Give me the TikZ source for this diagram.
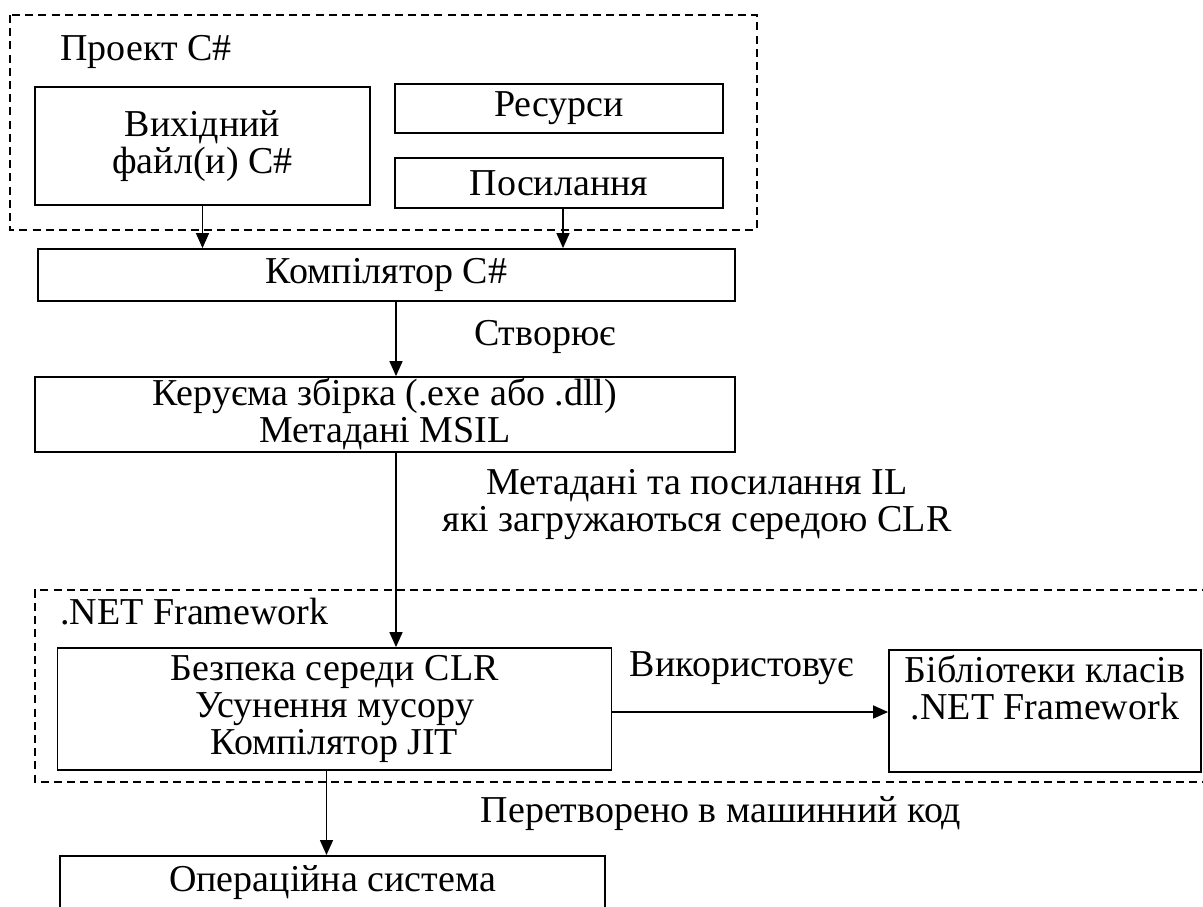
\documentclass[tikz,border=0pt]{standalone}
\usepackage{fontspec}
\setmainfont{Liberation Serif}
\usetikzlibrary{arrows.meta}
\begin{document}
\begin{tikzpicture}[x=0.5pt,y=-0.5pt,
  font=\fontsize{19pt}{18.5pt}\selectfont,
  box/.style={draw,line width=0.9pt,rectangle,align=center,inner sep=0pt},
  grp/.style={draw,line width=0.9pt,dash pattern=on 4pt off 2.6pt},
  arr/.style={line width=0.75pt,-{Triangle[length=7.5pt,width=6.5pt]}},
  lbl/.style={inner sep=0pt,align=center}]
\useasboundingbox (0,0) rectangle (1203,906);
% groups
\draw[grp] (10,15) rectangle (757,230);
\draw[grp] (1210,590) -- (35,590) -- (35,782) -- (1210,782);
\node[lbl,anchor=west] (proj) at (60,52) {Проект C\#};
\node[lbl,anchor=west] (net) at (60,612) {.NET Framework};
% boxes
\node[box,minimum width=167.5pt,minimum height=59pt] (src) at (202.5,146) {Вихідний\\файл(и) C\#};
\node[box,minimum width=164pt,minimum height=24.5pt] (res) at (559,108.5) {Ресурси};
\node[box,minimum width=164pt,minimum height=25pt] (ref) at (559,183) {Посилання};
\node[box,minimum width=348.5pt,minimum height=26pt] (comp) at (386.5,275) {Компілятор C\#};
\node[box,minimum width=350pt,minimum height=37.5pt] (asm) at (385,414.5) {Керуєма збірка (.exe або .dll)\\Метадані MSIL};
\node[box,minimum width=277pt,minimum height=61pt] (clr) at (334.5,709) {Безпека середи CLR\\Усунення мусору\\Компілятор JIT};
\node[box,minimum width=156pt,minimum height=61pt] (lib) at (1045,711) {Бібліотеки класів\\.NET Framework\\\strut};
\node[box,minimum width=272.5pt,minimum height=45pt,anchor=north,inner ysep=5pt] (os) at (332.5,855) {Операційна система\\\strut\\\strut};
% labels
\node[lbl] (l1) at (545,337) {Створює};
\node[lbl] (l2) at (697,505) {Метадані та посилання IL\\які загружаються середою CLR};
\node[lbl] (l3) at (742,668) {Використовує};
\node[lbl] (l4) at (721,814) {Перетворено в машинний код};
% connectors
\coordinate (vx) at (396,0);
\draw[arr] (src.south) -- (src.south |- comp.north);
\draw[arr] ([xshift=2pt]ref.south) -- ([xshift=2pt]ref.south |- comp.north);
\draw[arr] (vx |- comp.south) -- (vx |- asm.north);
\draw[arr] (vx |- asm.south) -- (vx |- clr.north);
\draw[arr] (clr.east |- 0,712) -- (lib.west |- 0,712);
\draw[arr] ([xshift=-4pt]clr.south) -- ([xshift=-4pt]clr.south |- os.north);
\end{tikzpicture}
\end{document}
